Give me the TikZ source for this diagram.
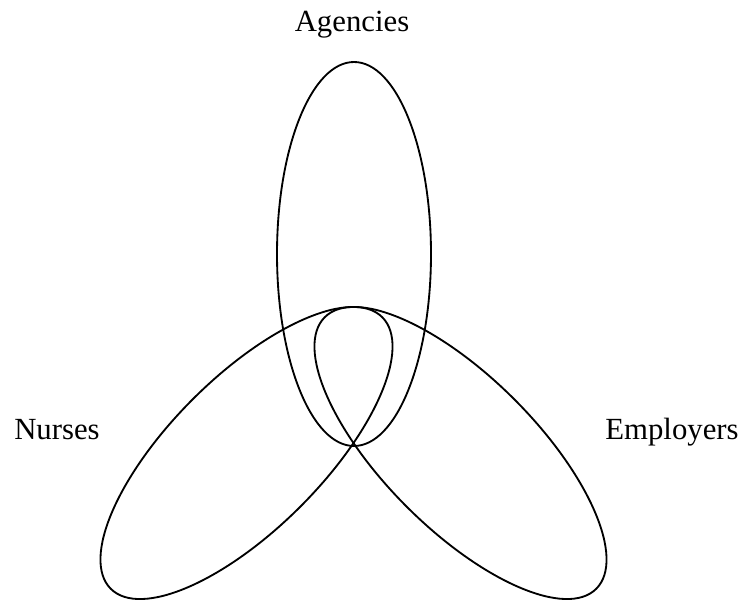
\documentclass[tikz,border=0pt]{standalone}
\usepackage{fontspec}
\setmainfont{Liberation Serif}
\usepackage{tikz}
\usetikzlibrary{positioning,calc}

\begin{document}
\begin{tikzpicture}[setline/.style={line width=1.05pt, black},
	setlabel/.style={anchor=base, inner sep=0pt, font=\fontsize{17.5}{21}\selectfont}]
				\useasboundingbox (0,0) rectangle (14.86,12);
				
				% Draw the three sets
				\draw[setline] (7.08,6.92) ellipse [x radius=1.54cm, y radius=3.84cm];
				\draw[setline, rotate around={45:(4.93,2.94)}] (4.93,2.94) ellipse [x radius=3.84cm, y radius=1.52cm];
				\draw[setline, rotate around={-45:(9.21,2.94)}] (9.21,2.94) ellipse [x radius=3.84cm, y radius=1.52cm];
				
				% Add labels
				\node[setlabel] (agencies) at (7.04,11.36) {Agencies};
				\node[setlabel] (nurses) at (1.14,3.22) {Nurses};
				\node[setlabel] (employers) at (13.44,3.22) {Employers};
			\end{tikzpicture}
\end{document}
